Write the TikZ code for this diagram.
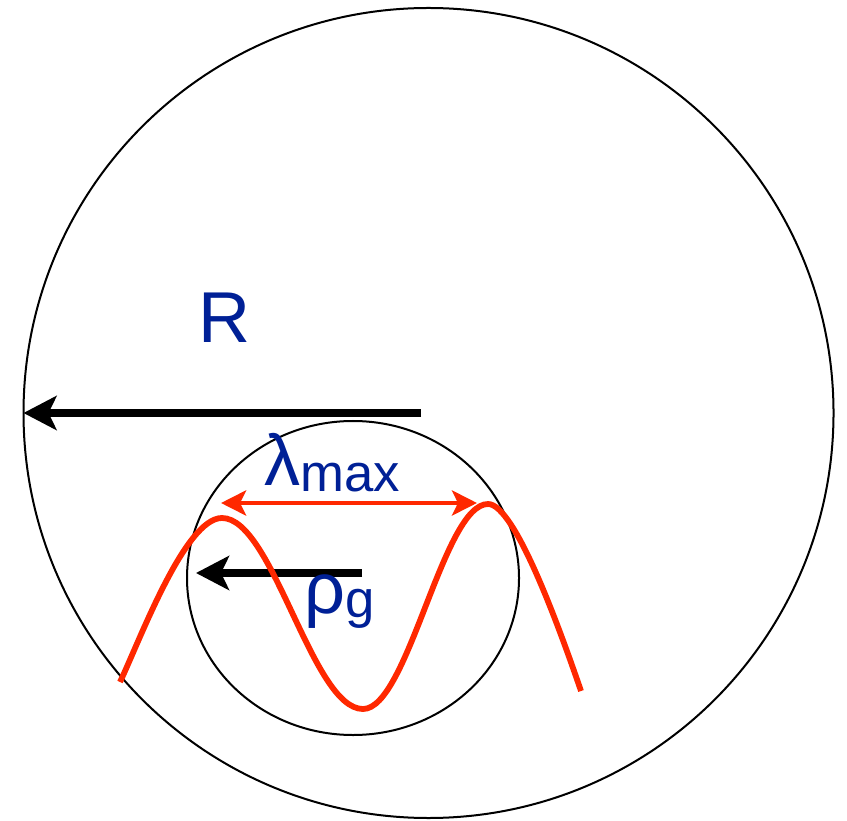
\documentclass[tikz,border=0pt]{standalone}
\usepackage{fontspec}
\setmainfont{Liberation Sans}
\usepackage{tikz}
\usetikzlibrary{arrows.meta,shapes.geometric}
\definecolor{labelblue}{RGB}{0,32,150}
\definecolor{wavered}{RGB}{255,40,0}
\newcommand{\lowsub}[2][-0.06cm]{\raisebox{#1}{\fontsize{15}{18}\selectfont #2}}

\begin{document}
\begin{tikzpicture}[
    bound/.style={draw, line width=0.02cm, inner sep=0pt, outer sep=0pt},
    radius arrow/.style={line width=0.085cm, -{Stealth[length=0.33cm, width=0.34cm, inset=0.08cm]}},
    wave arrow/.style={draw=wavered, line width=0.048cm, {Stealth[length=0.25cm, width=0.25cm, inset=0.06cm]}-{Stealth[length=0.25cm, width=0.25cm, inset=0.06cm]}},
    symb/.style={text=labelblue, font=\fontsize{20.5}{24}\selectfont, inner sep=0pt},
]
    \useasboundingbox (0,0) rectangle (8.47,-8.21);

    % Boundaries
    \node[bound, circle, minimum size=8.10cm] (outer) at (4.285,-4.13) {};
    \node[bound, ellipse, minimum width=3.32cm, minimum height=3.14cm] (inner) at (3.53,-5.78) {};

    % Radii
    \coordinate (Rtail) at (4.21,-4.13);
    \coordinate (rhotail) at (3.62,-5.73);
    \coordinate (rhotip) at (1.96,-5.73);
    \draw[radius arrow] (Rtail) -- (outer.west);
    \draw[radius arrow] (rhotail) -- (rhotip);

    % Wavelength
    \coordinate (lamL) at (2.21,-5.03);
    \coordinate (lamR) at (4.77,-5.03);
    \draw[wave arrow] (lamL) -- (lamR);
    \draw[wavered, line width=0.058cm] (1.20,-6.82)
        .. controls (1.40,-6.40) and (1.85,-5.18) .. (2.22,-5.18)
        .. controls (2.73,-5.18) and (3.12,-7.09) .. (3.63,-7.09)
        .. controls (4.08,-7.09) and (4.43,-5.04) .. (4.88,-5.04)
        .. controls (5.15,-5.04) and (5.60,-6.30) .. (5.81,-6.91);

    % Labels
    \node[symb, anchor=base] (Rlab) at (2.245,-3.43) {R};
    \node[symb, anchor=base west] (lamlab) at (2.64,-4.85) {λ\lowsub{max}};
    \node[symb, anchor=base west] (rholab) at (3.04,-6.13) {ρ\lowsub[-0.045cm]{g}};
\end{tikzpicture}
\end{document}
